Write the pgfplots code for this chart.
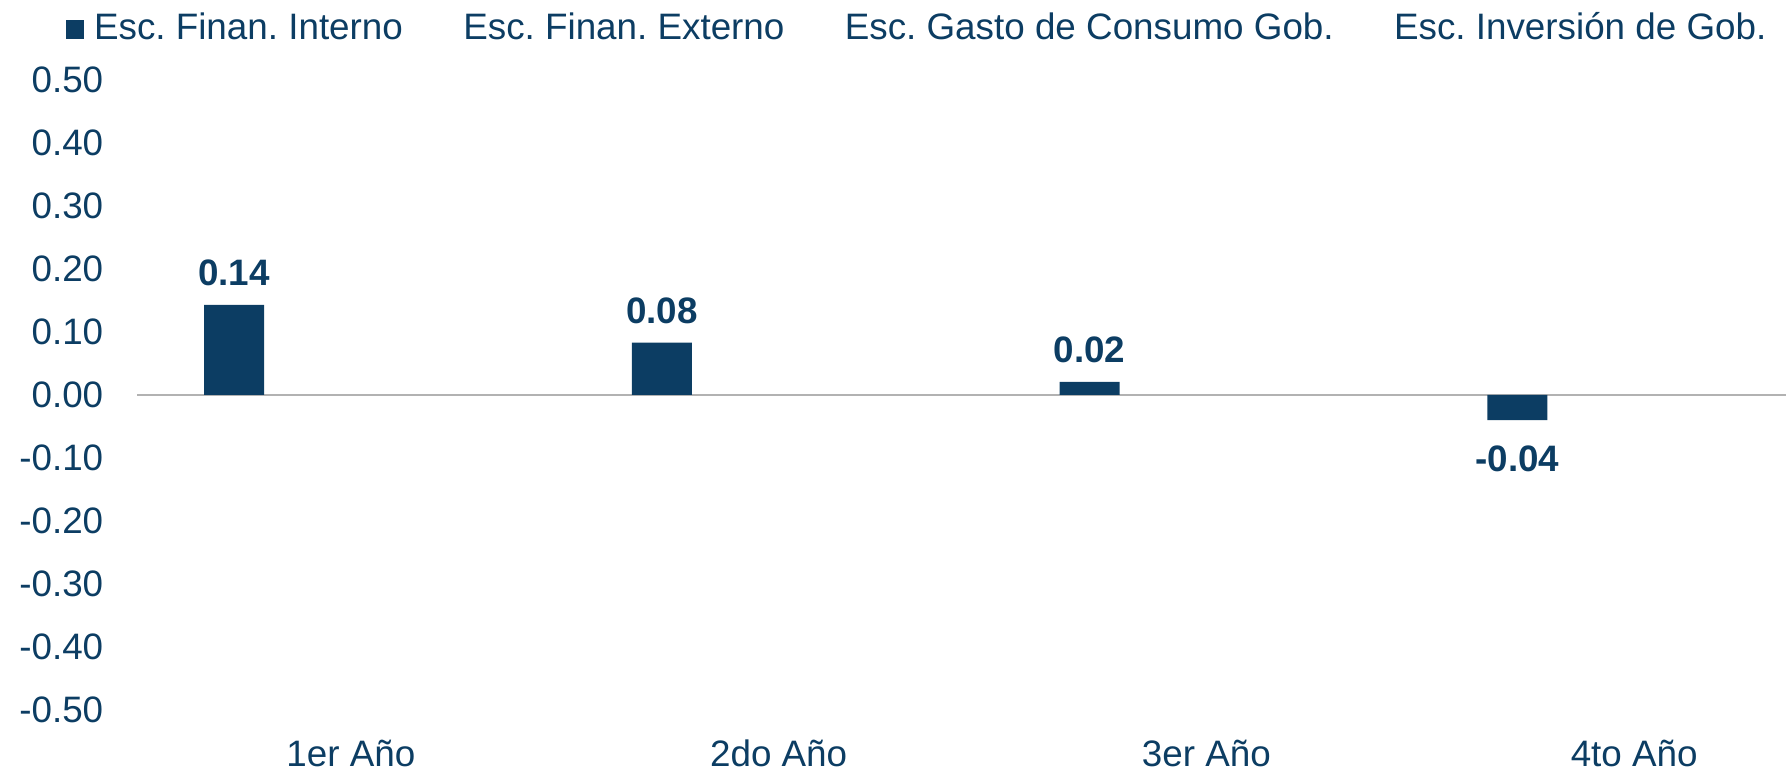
\documentclass[border=0pt]{standalone}
\usepackage{fontspec}
\setmainfont{Liberation Sans}
\usepackage{pgfplots}
\pgfplotsset{compat=1.18}
\definecolor{navy}{RGB}{12,61,99}
\definecolor{zline}{RGB}{178,178,178}
\begin{document}
\frenchspacing
\begin{tikzpicture}
\useasboundingbox (-34.25pt,-15.5pt) rectangle (412.25pt,177.5pt);
\begin{axis}[
  at={(0,0)}, anchor=south west,
  scale only axis, width=412.25pt, height=157.5pt,
  xmin=-0.5, xmax=3.355, ymin=-0.5, ymax=0.5,
  enlargelimits=false,
  axis line style={draw=none}, major tick length=0pt,
  xtick={0,1,2,3}, xticklabels={1er Año,2do Año,3er Año,4to Año},
  ytick={-0.5,-0.4,-0.3,-0.2,-0.1,0,0.1,0.2,0.3,0.4,0.5},
  scaled y ticks=false,
  yticklabel={\pgfmathprintnumber[fixed,fixed zerofill,precision=2,assume math mode=true]{\tick}},
  every tick label/.append style={font=\fontsize{9.2}{11}\selectfont, text=navy},
  yticklabel style={anchor=east, inner sep=0pt, xshift=-8.25pt},
  xticklabel style={anchor=base, inner sep=0pt, yshift=-14.1pt},
  extra y ticks={0}, extra y tick labels={},
  extra y tick style={grid=major, major grid style={draw=zline, line width=0.5pt}},
  legend style={draw=none, fill=none, at={(-0.0435,1.108)}, anchor=north west,
    inner sep=0pt, font=\fontsize{9.2}{11}\selectfont\frenchspacing, text=navy,
    column sep=0pt,
    /tikz/every odd column/.append style={column sep=2.4pt},
    /tikz/every even column/.append style={column sep=8.1pt},
    nodes={inner sep=0pt}},
  legend columns=4, legend cell align=left,
]
\addplot[ybar, bar width=0.14, bar shift=-0.273, fill=navy, draw=none,
  nodes near coords={\pgfmathprintnumber[fixed,fixed zerofill,precision=2,assume math mode=true]{\pgfplotspointmeta}},
  visualization depends on=rawy \as \rawy,
  every node near coord/.append style={font=\fontsize{9.2}{11}\selectfont\bfseries, text=navy, inner sep=4.5pt,
     xshift=-29.2pt, yshift={(\rawy<0)*(-1.75pt)}},
  legend image code/.code={\fill[navy] (0pt,-2.55pt) rectangle (4.6pt,2.2pt);}]
  coordinates {(0,0.143) (1,0.083) (2,0.021) (3,-0.040)};
\addlegendentry{Esc. Finan. Interno}
\addlegendimage{legend image code/.code={\path[draw=none,fill=none] (0pt,-2.55pt) rectangle (4.6pt,2.2pt);}}
\addlegendentry{Esc. Finan. Externo}
\addlegendimage{legend image code/.code={\path[draw=none,fill=none] (0pt,-2.55pt) rectangle (4.6pt,2.2pt);}}
\addlegendentry{Esc. Gasto de Consumo Gob.}
\addlegendimage{legend image code/.code={\path[draw=none,fill=none] (0pt,-2.55pt) rectangle (4.6pt,2.2pt);}}
\addlegendentry{Esc. Inversión de Gob.}
\end{axis}
\end{tikzpicture}
\end{document}
